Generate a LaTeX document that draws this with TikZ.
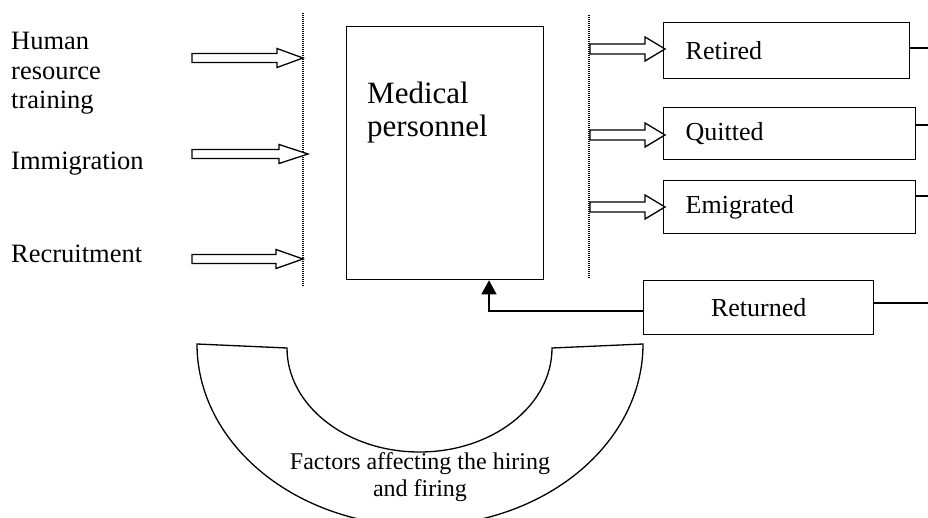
\documentclass[tikz,border=0pt]{standalone}
\usepackage{fontspec}
\setmainfont{Liberation Serif}
\usetikzlibrary{arrows.meta}
\newcommand{\hollowarr}[6]{% tail x, y, head base x, tip x, shaft half, head half
  \draw[hollowline] (#1,#2+#5) -- (#3,#2+#5) -- (#3,#2+#6) -- (#4,#2)
     -- (#3,#2-#6) -- (#3,#2-#5) -- (#1,#2-#5) -- cycle;}
\begin{document}
\begin{tikzpicture}[x=1pt,y=1pt,
  lbl/.style={inner sep=0pt,font=\fontsize{26.5}{29.5}\selectfont},
  medlbl/.style={inner sep=0pt,align=left,font=\fontsize{31}{32.5}\selectfont},
  facl/.style={inner sep=0pt,align=center,font=\fontsize{24}{27}\selectfont},
  boxlbl/.style={draw,line width=1.3pt,anchor=north west,inner ysep=0pt,font=\fontsize{26}{29}\selectfont},
  hollowline/.style={draw,line width=1.3pt,fill=white,line join=miter},
  dotline/.style={line width=1.2pt,dash pattern=on 1pt off 1pt},
  conn/.style={line width=1.3pt},
]
\useasboundingbox (0,0) rectangle (928,-518);

% dotted separators
\coordinate (d1t) at (303,-13);
\coordinate (d1b) at (303,-286);
\coordinate (d2t) at (589,-15);
\coordinate (d2b) at (589,-278);
\draw[dotline] (d1t) -- (d1b);
\draw[dotline] (d2t) -- (d2b);

% left labels
\node[lbl,anchor=north west,align=left] (hrt) at (11,-32) {Human\\resource\\training};
\node[lbl,anchor=base west] (imm) at (11,-170) {Immigration};
\node[lbl,anchor=base west] (rec) at (11,-263) {Recruitment};

% left hollow arrows
\hollowarr{192}{-58}{277}{303}{4.5}{9.5}
\hollowarr{192}{-154}{279}{308}{4.5}{9.5}
\hollowarr{192}{-259}{276}{303}{4.5}{9.5}

% medical personnel box
\node[draw,line width=1.3pt,anchor=north west,minimum width=197pt,minimum height=253pt,inner sep=0pt] (med) at (346,-26) {};
\node[medlbl,anchor=north west] (medtxt) at (367,-82) {Medical\\personnel};

% right hollow arrows
\hollowarr{590}{-49}{645}{665}{5}{12}
\hollowarr{590}{-135}{645}{665}{5}{12}
\hollowarr{590}{-207}{645}{665}{5}{12}

% right boxes
\node[boxlbl,minimum width=246pt,minimum height=56pt,inner xsep=22pt,text width=202pt,align=left] (ret) at (663,-22) {Retired};
\node[boxlbl,minimum width=252pt,minimum height=52pt,inner xsep=22pt,text width=208pt,align=left] (qui) at (663,-107) {Quitted};
\node[boxlbl,minimum width=252pt,minimum height=53pt,inner xsep=22pt,text width=208pt,align=left] (emi) at (663,-180) {Emigrated};
\node[boxlbl,minimum width=230pt,minimum height=54pt,inner xsep=10pt,text width=210pt,align=center] (rtn) at (643,-280) {Returned};

% stubs to the right edge
\coordinate (e1) at (928,-48);
\coordinate (e2) at (928,-125);
\coordinate (e3) at (928,-196);
\coordinate (e4) at (928,-303);
\draw[conn] (ret.east |- e1) -- (e1);
\draw[conn] (qui.east |- e2) -- (e2);
\draw[conn] (emi.east |- e3) -- (e3);
\draw[conn] (rtn.east |- e4) -- (e4);

% returned -> medical personnel
\coordinate (jx) at (489,-311);
\draw[conn,-{Triangle[width=15pt,length=14pt]}] (rtn.west |- jx) -- (jx) -- (jx |- med.south);

% horseshoe
\draw[line width=1.3pt,fill=white] (197,-344) -- (287,-348)
   arc[start angle=180,end angle=360,x radius=132.5pt,y radius=104pt]
   -- (643,-344)
   arc[start angle=0,end angle=-180,x radius=223pt,y radius=182pt]
   -- cycle;
\node[facl,anchor=north] (fac) at (420,-452) {Factors affecting the hiring\\and firing};
\end{tikzpicture}
\end{document}
